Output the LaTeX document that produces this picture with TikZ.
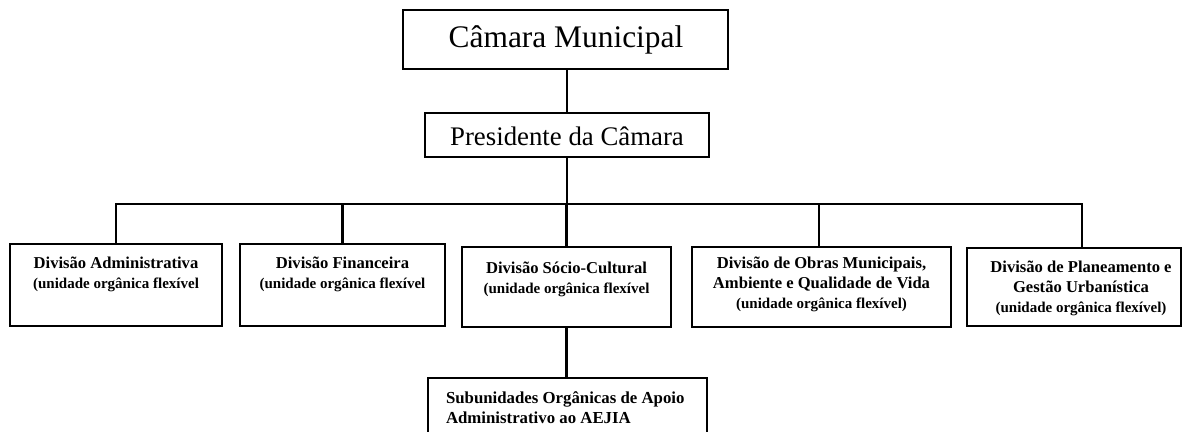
\documentclass[tikz,border=0pt]{standalone}
\usepackage{fontspec}
\setmainfont{Liberation Serif}
\newcommand\subfnt{\fontsize{7.5}{10}\selectfont\bfseries}
\begin{document}
\begin{tikzpicture}[x=0.5pt,y=-0.5pt,
  boxstyle/.style={draw=black, line width=1.4pt, fill=white, inner sep=0pt},
  linkstyle/.style={draw=black, line width=1.3pt},
  toptext/.style={inner sep=0pt, font=\fontsize{15.7}{18}\selectfont},
  divtext/.style={inner sep=0pt, anchor=north, align=center, font=\fontsize{8.3}{10}\selectfont\bfseries}
]
\useasboundingbox (0,0) rectangle (1184,432);
\clip (0,0) rectangle (1184,432);
\fill[white] (0,0) rectangle (1184,432);

% top boxes
\node[boxstyle, minimum width=162.5pt, minimum height=29.5pt] (cm) at (565.5,39.5) {};
\node[toptext] (cmt) at (566,40) {Câmara Municipal};
\node[boxstyle, minimum width=142pt, minimum height=22pt] (pc) at (567,135) {};
\node[toptext, font=\fontsize{13.4}{16}\selectfont] (pct) at (567,136) {Presidente da Câmara};

% division boxes
\node[boxstyle, minimum width=106pt, minimum height=41pt] (b1) at (116,285) {};
\node[boxstyle, minimum width=102.5pt, minimum height=41pt] (b2) at (342.5,285) {};
\node[boxstyle, minimum width=104.5pt, minimum height=40pt] (b3) at (566.5,287) {};
\node[boxstyle, minimum width=129.5pt, minimum height=40pt] (b4) at (821.5,287) {};
\node[boxstyle, minimum width=107pt, minimum height=39pt] (b5) at (1074,287) {};
\node[boxstyle, minimum width=139.5pt, minimum height=41pt] (sub) at (567.5,419) {};

% connectors
\coordinate (bus) at (0,204);
\coordinate (d5) at ([xshift=4pt]b5.north);
\draw[linkstyle] (pc.north) -- (pc.north |- cm.south);
\draw[linkstyle] (pc.south) -- (pc.south |- bus);
\draw[linkstyle] (b1.north) -- (b1.north |- bus) -- (d5 |- bus) -- (d5);
\draw[linkstyle] (b2.north) -- (b2.north |- bus);
\draw[linkstyle] (b3.north) -- (b3.north |- bus);
\draw[linkstyle] ([xshift=-1.25pt]b4.north) -- ([xshift=-1.25pt]b4.north |- bus);
\draw[linkstyle] (b3.south) -- (b3.south |- sub.north);

% texts
\node[divtext] (t1) at ([yshift=-6.8pt]b1.north) {Divisão Administrativa\\{\subfnt (unidade orgânica flexível}};
\node[divtext] (t2) at ([yshift=-6.8pt]b2.north) {Divisão Financeira\\{\subfnt (unidade orgânica flexível}};
\node[divtext] (t3) at ([yshift=-7.8pt]b3.north) {Divisão Sócio-Cultural\\{\subfnt (unidade orgânica flexível}};
\node[divtext] (t4) at ([yshift=-5.3pt]b4.north) {Divisão de Obras Municipais,\\Ambiente e Qualidade de Vida\\{\subfnt (unidade orgânica flexível)}};
\node[divtext] (t5) at ([xshift=3.5pt,yshift=-6.8pt]b5.north) {Divisão de Planeamento e\\Gestão Urbanística\\{\subfnt (unidade orgânica flexível)}};
\node[divtext, anchor=north west, align=left, font=\fontsize{8.4}{10}\selectfont\bfseries] (t6) at ([xshift=9.5pt,yshift=-7.5pt]sub.north west) {Subunidades Orgânicas de Apoio\\Administrativo ao AEJIA};
\end{tikzpicture}
\end{document}
